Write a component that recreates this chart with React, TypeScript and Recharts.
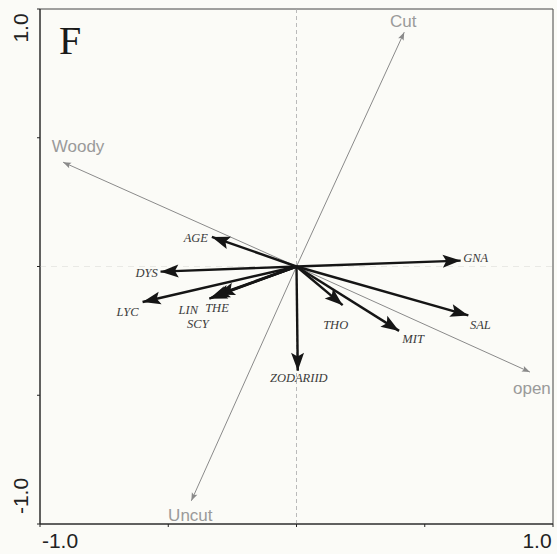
import { ScatterChart, Scatter, XAxis, YAxis, ReferenceLine, ReferenceArea } from "recharts"

// species scores (black arrows)
const species = ["AGE", "DYS", "LYC", "LIN", "THE", "SCY", "ZODARIID", "GNA", "SAL", "MIT", "THO"]
const speciesX = [-0.33, -0.53, -0.6, -0.34, -0.31, -0.33, 0.005, 0.64, 0.67, 0.4, 0.18]
const speciesY = [0.115, -0.02, -0.138, -0.125, -0.11, -0.12, -0.405, 0.023, -0.19, -0.25, -0.15]

// environmental variables (grey arrows)
const envVars = ["Cut", "Woody", "open", "Uncut"]
const envX = [0.42, -0.91, 0.91, -0.41]
const envY = [0.91, 0.405, -0.41, -0.91]

const axisTicks = [-1, -0.5, 0, 0.5, 1]

// label offsets from arrow tip, px
const labelOffset: Record<string, [number, number]> = {
  AGE: [-16, 1],
  DYS: [-14, 1],
  LYC: [-15, 10],
  LIN: [-21, 11],
  THE: [0, 13],
  SCY: [-14, 27],
  ZODARIID: [1, 7],
  GNA: [15, -3],
  SAL: [12, 10],
  MIT: [14, 8],
  THO: [-7, 20],
  Cut: [-1, -11],
  Woody: [15, -16],
  open: [2, 16],
  Uncut: [-1, 15],
}

const W = 557
const H = 554
const SX = 256.5
const SY = 257.5

const arrowShape = (name: string, heavy: boolean) => (props: any) => {
  const { cx, cy, payload } = props
  if (!payload || (payload.x === 0 && payload.y === 0)) return <g />
  const dx = payload.x * SX
  const dy = -payload.y * SY
  const len = Math.sqrt(dx * dx + dy * dy)
  const ux = dx / len
  const uy = dy / len
  const L = heavy ? 18 : 8
  const hw = heavy ? 6.5 : 3
  const bx = cx - ux * L
  const by = cy - uy * L
  const nx = cx - ux * L * 0.8
  const ny = cy - uy * L * 0.8
  const d = `M${cx},${cy} L${bx - uy * hw},${by + ux * hw} L${nx},${ny} L${bx + uy * hw},${by - ux * hw} Z`
  const [ox, oy] = labelOffset[name] || [0, 0]
  return (
    <g>
      <path d={d} fill={heavy ? "#151515" : "#8a8a8a"} />
      <text
        x={cx + ox}
        y={cy + oy}
        textAnchor="middle"
        dominantBaseline="central"
        fontFamily={heavy ? "'Liberation Serif', 'Times New Roman', serif" : "'Liberation Sans', Arial, sans-serif"}
        fontStyle={heavy ? "italic" : "normal"}
        fontSize={heavy ? 12.5 : 17}
        fill={heavy ? "#3a3a3a" : "#9a9a9a"}
      >
        {name}
      </text>
    </g>
  )
}

const XTick = ({ x, payload }: any) => {
  const v = payload.value
  if (v !== -1 && v !== 1) return <g />
  return (
    <text x={v === -1 ? x + 20 : x - 16} y={548} textAnchor="middle" fontFamily="'Liberation Sans', Arial, sans-serif" fontSize={21} fill="#222">
      {v.toFixed(1)}
    </text>
  )
}

const YTick = ({ y, payload }: any) => {
  const v = payload.value
  if (v !== -1 && v !== 1) return <g />
  const cy = v === 1 ? y + 19 : y - 28
  return (
    <text
      x={20}
      y={cy}
      transform={`rotate(-90 20 ${cy})`}
      textAnchor="middle"
      dominantBaseline="central"
      fontFamily="'Liberation Sans', Arial, sans-serif"
      fontSize={21}
      fill="#222"
    >
      {v.toFixed(1)}
    </text>
  )
}

export default function App() {
  return (
    <div style={{ position: "absolute", left: 0, top: 0, width: W, height: H, background: "#fbfbf7" }}>
      <ScatterChart width={W} height={H} margin={{ top: 9, right: 4, bottom: 0, left: 0 }}>
        <XAxis
          type="number"
          dataKey="x"
          domain={[-1, 1]}
          ticks={axisTicks}
          allowDataOverflow
          height={30}
          tickSize={3}
          axisLine={{ stroke: "#222" }}
          tickLine={{ stroke: "#222" }}
          tick={<XTick />}
        />
        <YAxis
          type="number"
          dataKey="y"
          domain={[-1, 1]}
          ticks={axisTicks}
          allowDataOverflow
          width={40}
          tickSize={3}
          axisLine={{ stroke: "#222" }}
          tickLine={{ stroke: "#222" }}
          tick={<YTick />}
        />
        <ReferenceArea x1={-1} x2={1} y1={-1} y2={1} fill="none" stroke="#444" strokeWidth={1} />
        <ReferenceLine x={0} stroke="#aaa" strokeDasharray="4 3" strokeWidth={0.8} />
        <ReferenceLine y={0} stroke="#e4e4e0" strokeDasharray="6 5" strokeWidth={0.8} />
        {envVars.map((name, i) => (
          <Scatter
            key={name}
            data={[
              { x: 0, y: 0 },
              { x: envX[i], y: envY[i] },
            ]}
            line={{ stroke: "#8a8a8a", strokeWidth: 1 }}
            shape={arrowShape(name, false)}
            isAnimationActive={false}
          />
        ))}
        {species.map((name, i) => (
          <Scatter
            key={name}
            data={[
              { x: 0, y: 0 },
              { x: speciesX[i], y: speciesY[i] },
            ]}
            line={{ stroke: "#151515", strokeWidth: 2.4 }}
            shape={arrowShape(name, true)}
            isAnimationActive={false}
          />
        ))}
      </ScatterChart>
      <svg width={W} height={H} style={{ position: "absolute", left: 0, top: 0, pointerEvents: "none" }}>
        <text x={59} y={54} fontFamily="'Liberation Serif', 'Times New Roman', serif" fontSize={40} fill="#1a1a1a">
          F
        </text>
      </svg>
    </div>
  )
}
